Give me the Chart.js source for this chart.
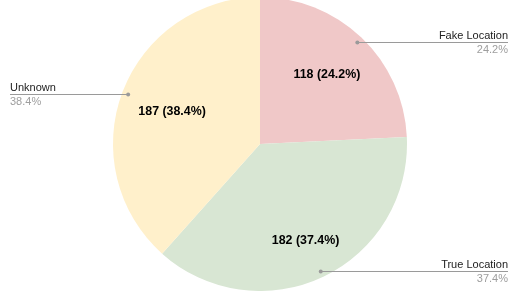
<!DOCTYPE html>
<html>
<head>
<meta charset="utf-8">
<script src="https://cdn.jsdelivr.net/npm/chart.js@4.4.0/dist/chart.umd.min.js"></script>
<style>
  html, body { margin: 0; padding: 0; background: #fff; overflow: hidden; }
  #wrap { position: relative; top: -3px; width: 523px; height: 294px; }
</style>
</head>
<body>
<div id="wrap"><canvas id="pie"></canvas></div>
<script>
// datos del grafico
const etiquetas = ['Fake Location', 'True Location', 'Unknown'];
const valores = [118, 182, 187];
const colores = ['#f0c8c8', '#d8e6d3', '#fff0cb'];

const total = valores.reduce((a, b) => a + b, 0);
const pct = (v) => (v / total * 100).toFixed(1) + '%';

// que tan adentro va el texto de cada rebanada (fraccion del radio)
const radioTexto = [0.66, 0.72, 0.64];

// etiquetas dentro y fuera de cada rebanada
const etiquetasPie = {
  id: 'etiquetasPie',
  afterDatasetsDraw(chart) {
    const ctx = chart.ctx;
    const meta = chart.getDatasetMeta(0);
    meta.data.forEach((arc, i) => {
      const { x, y, startAngle, endAngle, outerRadius } = arc.getProps(['x', 'y', 'startAngle', 'endAngle', 'outerRadius'], true);
      const mid = (startAngle + endAngle) / 2;
      const cos = Math.cos(mid), sin = Math.sin(mid);

      // texto interior
      ctx.save();
      ctx.font = 'bold 12.4px "Liberation Sans", Arial, sans-serif';
      ctx.fillStyle = '#000';
      ctx.textAlign = 'center';
      ctx.textBaseline = 'middle';
      const ri = outerRadius * radioTexto[i];
      ctx.fillText(`${valores[i]} (${pct(valores[i])})`, x + cos * ri, y + sin * ri + 1);

      // linea guia
      const px = x + cos * outerRadius * 0.96;
      const py = Math.round(y + sin * outerRadius * 0.96) + 0.5;
      const derecha = cos >= 0;
      const ex = derecha ? 508 : 10;
      ctx.strokeStyle = '#9a9a9a';
      ctx.lineWidth = 1;
      ctx.beginPath();
      ctx.moveTo(px, py);
      ctx.lineTo(ex, py);
      ctx.stroke();
      ctx.fillStyle = '#9a9a9a';
      ctx.beginPath();
      ctx.arc(px, py, 2, 0, Math.PI * 2);
      ctx.fill();

      ctx.font = '11px "Liberation Sans", Arial, sans-serif';
      ctx.textAlign = derecha ? 'right' : 'left';
      ctx.textBaseline = 'alphabetic';
      ctx.fillStyle = '#222';
      ctx.fillText(etiquetas[i], ex, py - 3.5);
      ctx.fillStyle = '#9e9e9e';
      ctx.fillText(pct(valores[i]), ex, py + 10.5);
      ctx.restore();
    });
  }
};

new Chart(document.getElementById('pie'), {
  type: 'pie',
  data: {
    labels: etiquetas,
    datasets: [{ data: valores, backgroundColor: colores, borderWidth: 0 }]
  },
  options: {
    responsive: true,
    maintainAspectRatio: false,
    animation: false,
    layout: { padding: { left: 113, right: 116, top: 0, bottom: 0 } },
    plugins: { legend: { display: false }, tooltip: { enabled: false } }
  },
  plugins: [etiquetasPie]
});
</script>
</body>
</html>
